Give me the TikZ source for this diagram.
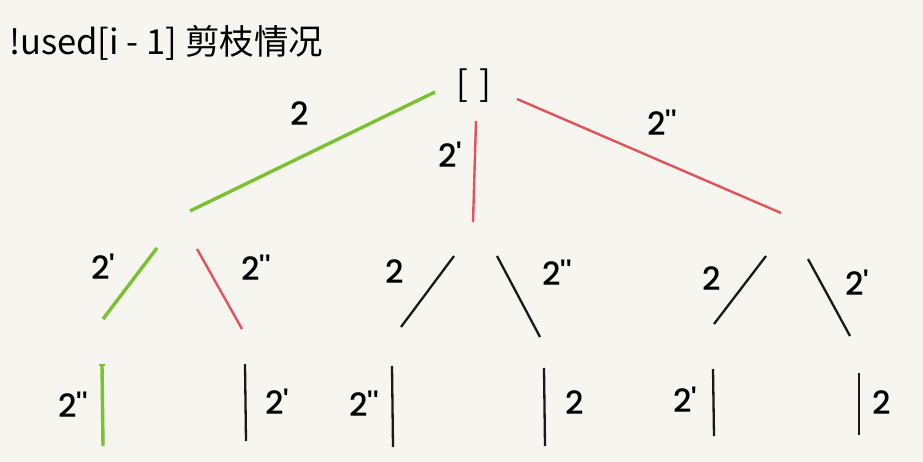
\documentclass[tikz,border=0pt]{standalone}
\usepackage{fontspec}
\usepackage{tikz}
\usetikzlibrary{positioning}
\newfontfamily\cjk{Noto Sans CJK SC}
\newfontfamily\lblfont[Ligatures=TeXOff,UprightFont=* Medium]{Poppins}

\definecolor{paper}{RGB}{247,245,240}
\definecolor{keepgreen}{RGB}{122,194,49}
\definecolor{cutred}{RGB}{226,83,90}

\begin{document}
\begin{tikzpicture}
        [x=1pt,y=-1pt,
         lbl/.style={font=\lblfont\fontsize{32}{32}\selectfont,inner sep=0pt},
         used/.style={line width=2.3pt,black!90},
         cut/.style={line width=2.4pt,cutred},
         pass/.style={line width=3.4pt,keepgreen}]
        \fill[paper] (0,0) rectangle (923,462);
        \useasboundingbox (0,0) rectangle (923,462);

        \node[anchor=west,inner sep=0pt,font=\cjk\fontsize{34.5}{34.5}\selectfont] (T) at (9,43) {!used[i - 1] 剪枝情况};
        \node[inner sep=0pt,font=\cjk\fontsize{35}{35}\selectfont]  (R) at (474,86) {[\,\,]};

        % first level
        \coordinate (A1) at (435,92);  \coordinate (A2) at (190,211);
        \coordinate (B1) at (476,121); \coordinate (B2) at (473,222);
        \coordinate (C1) at (517,99);  \coordinate (C2) at (781,213);
        \node[lbl] (a) at (300,114) {2};
        \node[lbl] (b) at (450,155) {2'};
        \node[lbl] (c) at (662,123) {2''};

        % second level
        \coordinate (AA1) at (157,248); \coordinate (AA2) at (103,319);
        \coordinate (AB1) at (197,249); \coordinate (AB2) at (242,329);
        \coordinate (BA1) at (454,256); \coordinate (BA2) at (401,327);
        \coordinate (BB1) at (497,256); \coordinate (BB2) at (540,337);
        \coordinate (CA1) at (766,256); \coordinate (CA2) at (714,324);
        \coordinate (CB1) at (808,259); \coordinate (CB2) at (850,336);
        \node[lbl] (aa) at (103,267) {2'};
        \node[lbl] (ab) at (256,268) {2''};
        \node[lbl] (ba) at (395,272) {2};
        \node[lbl] (bb) at (557,273) {2''};
        \node[lbl] (ca) at (712,279) {2};
        \node[lbl] (cb) at (857,283) {2'};

        % third level
        \coordinate (AAA1) at (102,365); \coordinate (AAA2) at (103,446);
        \coordinate (ABA1) at (245,364); \coordinate (ABA2) at (246,441);
        \coordinate (BAA1) at (392,366); \coordinate (BAA2) at (393,447);
        \coordinate (BBA1) at (544,368); \coordinate (BBA2) at (545,446);
        \coordinate (CAA1) at (713,369); \coordinate (CAA2) at (714,436);
        \coordinate (CBA1) at (859,373); \coordinate (CBA2) at (859,435);
        \node[lbl] (aaa) at (73,405) {2''};
        \node[lbl] (aba) at (277,402) {2'};
        \node[lbl] (baa) at (364,404) {2''};
        \node[lbl] (bba) at (575,403) {2};
        \node[lbl] (caa) at (685,400) {2'};
        \node[lbl] (cba) at (882,403) {2};

        \draw[pass] (A1) -- (A2);
        \draw[cut]  (B1) -- (B2);
        \draw[cut]  (C1) -- (C2);

        \draw[pass] (AA1) -- (AA2);
        \draw[cut]  (AB1) -- (AB2);
        \draw[used] (BA1) -- (BA2);
        \draw[used] (BB1) -- (BB2);
        \draw[used] (CA1) -- (CA2);
        \draw[used] (CB1) -- (CB2);

        \draw[pass] (AAA1) -- (AAA2);
        \draw[keepgreen,line width=1.2pt] ([xshift=-3pt]AAA1) -- ([xshift=3pt]AAA1);
        \draw[used] (ABA1) -- (ABA2);
        \draw[used] (BAA1) -- (BAA2);
        \draw[used] (BBA1) -- (BBA2);
        \draw[used] (CAA1) -- (CAA2);
        \draw[used] (CBA1) -- (CBA2);
\end{tikzpicture}
\end{document}
